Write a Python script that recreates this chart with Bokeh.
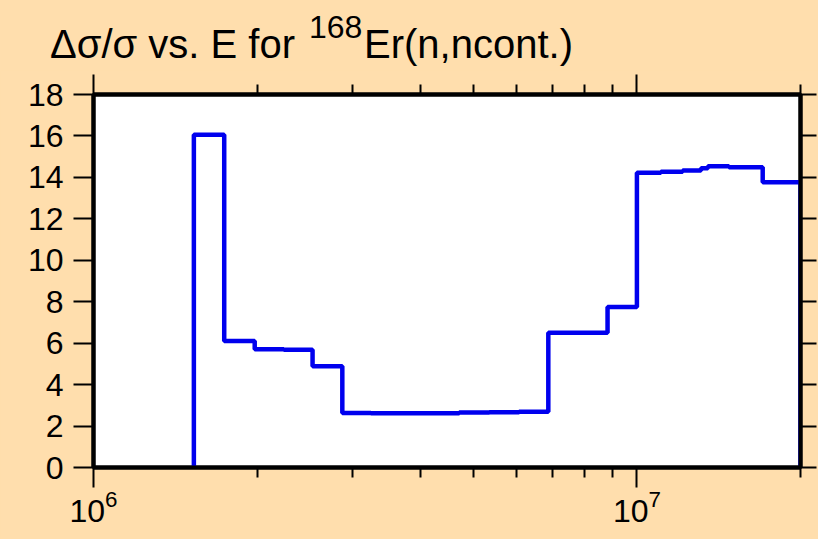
from bokeh.plotting import figure
from bokeh.models import LogAxis, LinearAxis, FixedTicker, CustomJSTickFormatter, Div
from bokeh.layouts import column
from bokeh.embed import file_html
from bokeh.resources import INLINE

# ---- data ----
edges = [1.53e6, 1.74e6, 1.98e6, 2.24e6, 2.53e6, 2.87e6, 3.24e6, 3.67e6, 4.16e6,
         4.71e6, 5.35e6, 6.07e6, 6.87e6, 8.83e6, 1.0e7, 1.107e7, 1.214e7, 1.312e7,
         1.351e7, 1.477e7, 1.704e7, 2.0e7]
values = [16.06, 6.10, 5.71, 5.68, 4.89, 2.63, 2.62, 2.62, 2.62, 2.65, 2.67, 2.69,
          6.50, 7.74, 14.22, 14.27, 14.33, 14.44, 14.54, 14.49, 13.77]
y_ticks = [0, 2, 4, 6, 8, 10, 12, 14, 16, 18]
x_major = [1e6, 1e7]
x_minor = [2e6, 3e6, 4e6, 5e6, 6e6, 7e6, 8e6, 9e6, 2e7]
title_parts = ["\u0394\u03c3/\u03c3 vs. E for", "168", "Er(n,ncont.)"]

FONT = "Liberation Sans"
BG = "#FFDEAD"
HEAD_H = 70

# step outline
xs = [edges[0]]
ys = [0.0]
for i, v in enumerate(values):
    xs += [edges[i], edges[i + 1]]
    ys += [v, v]
xs.append(edges[-1])
ys.append(0.0)

p = figure(width=818, height=539 - HEAD_H, x_axis_type="log",
           x_range=(1e6, 2e7), y_range=(0, 18),
           output_backend="svg", toolbar_location=None,
           min_border_left=93, min_border_right=18,
           min_border_top=94 - HEAD_H, min_border_bottom=72,
           x_axis_location=None, y_axis_location=None)
p.background_fill_color = "white"
p.border_fill_color = BG
p.outline_line_color = "black"
p.outline_line_width = 4
p.grid.visible = False

blank = CustomJSTickFormatter(code="return ''")

def style_x(ax, labels):
    ax.ticker = FixedTicker(ticks=x_major, minor_ticks=x_minor)
    ax.axis_line_width = 4
    ax.major_tick_out = 20
    ax.major_tick_in = 0
    ax.minor_tick_out = 10
    ax.minor_tick_in = 0
    ax.major_tick_line_width = 2
    ax.minor_tick_line_width = 2
    if labels:
        ax.major_label_text_font = FONT
        ax.major_label_text_font_size = "32px"
        ax.major_label_text_color = "black"
        ax.major_label_standoff = 2
    else:
        ax.formatter = blank
        ax.major_label_text_font_size = "1px"
        ax.major_label_standoff = 0

bottom = LogAxis()
style_x(bottom, True)
p.add_layout(bottom, "below")
top = LogAxis()
style_x(top, False)
p.add_layout(top, "above")

left = LinearAxis(ticker=FixedTicker(ticks=y_ticks, minor_ticks=[]))
left.axis_line_width = 4
left.major_tick_out = 20
left.major_tick_in = 0
left.major_tick_line_width = 2
left.major_label_standoff = 10
left.major_label_text_font = FONT
left.major_label_text_font_size = "32px"
left.major_label_text_color = "black"
p.add_layout(left, "left")

right = LinearAxis(ticker=FixedTicker(ticks=y_ticks, minor_ticks=[]))
right.formatter = blank
right.major_label_text_font_size = "1px"
right.major_label_standoff = 0
right.axis_line_width = 4
right.major_tick_out = 16
right.major_tick_in = 0
right.major_tick_line_width = 2
p.add_layout(right, "right")

p.line(xs, ys, line_color="#0000EE", line_width=4.5)

# title: real text with a real superscript mass number
span = ("<span style=\"position:absolute;left:{x}px;top:{t}px;font-size:{s}px;"
        "line-height:1;white-space:nowrap;\">{txt}</span>")
head_html = (
    "<div style=\"position:relative;width:818px;height:%dpx;font-family:'%s';color:black;\">"
    % (HEAD_H, FONT)
    + span.format(x=50, t=24, s=40, txt=title_parts[0])
    + span.format(x=309, t=11, s=32, txt=title_parts[1])
    + span.format(x=364, t=24, s=40, txt=title_parts[2])
    + "</div>"
)
head = Div(text=head_html, width=818, height=HEAD_H,
           styles={"background-color": BG, "margin": "0", "padding": "0"})

layout = column(head, p, spacing=0)
layout.styles = {"background-color": BG}

open("out.html", "w").write(file_html(layout, INLINE))
